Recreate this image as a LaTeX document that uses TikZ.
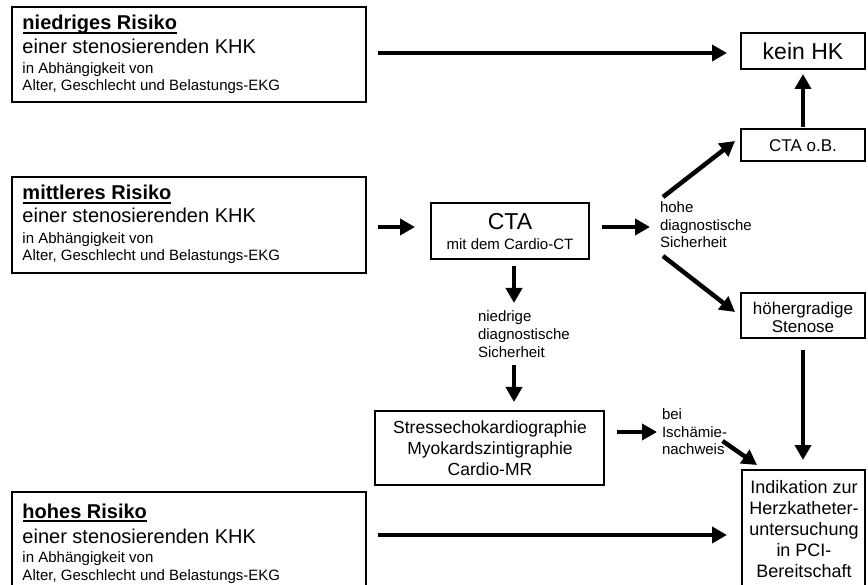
\documentclass[tikz,border=0pt]{standalone}
\usepackage{fontspec}
\setmainfont{Liberation Sans}
\usetikzlibrary{arrows.meta,calc}
\begin{document}
\begin{tikzpicture}[x=1pt,y=-1pt,
  box/.style={draw=black, line width=1.2pt, inner sep=0pt, outer sep=0pt, anchor=north west},
  lt/.style={inner sep=0pt, outer sep=0pt, anchor=base west},
  ct/.style={inner sep=0pt, outer sep=0pt, anchor=base},
  fT/.style={font=\fontsize{20}{24}\selectfont\bfseries},
  fB/.style={font=\fontsize{20}{24}\selectfont},
  fS/.style={font=\fontsize{15}{18}\selectfont},
  fL/.style={font=\fontsize{15}{18}\selectfont},
  fK/.style={font=\fontsize{23}{27}\selectfont},
  fM/.style={font=\fontsize{17}{20}\selectfont},
  fR/.style={font=\fontsize{17.5}{21}\selectfont},
  fI/.style={font=\fontsize{18}{21}\selectfont},
  uline/.style={line width=1.6pt},
  arr/.style={line width=4.5pt, -{Triangle[length=15pt,width=16pt]}}
]
\useasboundingbox (0,0) rectangle (868,585);
\clip (0,0) rectangle (868,585);

% ---------- left risk boxes ----------
\node[box, minimum width=354, minimum height=95] (b1) at (12,7) {};
\node[lt, fT] (b1t) at (22.5,30) {niedriges Risiko};
\draw[uline] ([yshift=-3pt]b1t.base west) -- ([yshift=-3pt]b1t.base east);
\node[lt, fB] (b1a) at (22.5,54) {einer stenosierenden KHK};
\node[lt, fS] (b1b) at (22.5,74) {in Abhängigkeit von};
\node[lt, fS] (b1c) at (22.5,91) {Alter, Geschlecht und Belastungs-EKG};

\node[box, minimum width=354, minimum height=96] (b2) at (12,177) {};
\node[lt, fT] (b2t) at (22.5,200) {mittleres Risiko};
\draw[uline] ([yshift=-3pt]b2t.base west) -- ([yshift=-3pt]b2t.base east);
\node[lt, fB] (b2a) at (22.5,223) {einer stenosierenden KHK};
\node[lt, fS] (b2b) at (22.5,244) {in Abhängigkeit von};
\node[lt, fS] (b2c) at (22.5,261) {Alter, Geschlecht und Belastungs-EKG};

\node[box, minimum width=354, minimum height=128] (b3) at (12,492) {};
\node[lt, fT] (b3t) at (22.5,518) {hohes Risiko};
\draw[uline] ([yshift=-3pt]b3t.base west) -- ([yshift=-3pt]b3t.base east);
\node[lt, fB] (b3a) at (22.5,543) {einer stenosierenden KHK};
\node[lt, fS] (b3b) at (22.5,562) {in Abhängigkeit von};
\node[lt, fS] (b3c) at (22.5,580) {Alter, Geschlecht und Belastungs-EKG};

% ---------- middle column ----------
\node[box, minimum width=158, minimum height=56] (cta) at (431,203) {};
\node[ct, fK] (ctat) at (510,230) {CTA};
\node[ct, fS] (ctab) at (510,250) {mit dem Cardio-CT};

\node[lt, fL] (nd1) at (478,322) {niedrige};
\node[lt, fL] (nd2) at (478,340) {diagnostische};
\node[lt, fL] (nd3) at (478,358) {Sicherheit};

\node[box, minimum width=229, minimum height=74] (stress) at (375,411) {};
\node[ct, fR] (st1) at (490,433) {Stressechokardiographie};
\node[ct, fR] (st2) at (490,454) {Myokardszintigraphie};
\node[ct, fR] (st3) at (490,475) {Cardio-MR};

\node[lt, fL] (hd1) at (660,213) {hohe};
\node[lt, fL] (hd2) at (660,231) {diagnostische};
\node[lt, fL] (hd3) at (660,248) {Sicherheit};

\node[lt, fL] (bi1) at (662,419) {bei};
\node[lt, fL] (bi2) at (662,437) {Ischämie-};
\node[lt, fL] (bi3) at (662,454) {nachweis};

% ---------- right column ----------
\node[box, minimum width=124, minimum height=36] (kein) at (741,33) {};
\node[ct, fK] (keint) at (803,60) {kein HK};

\node[box, minimum width=124, minimum height=32] (cob) at (741,129) {};
\node[ct, fM] (cobt) at (803,151.5) {CTA o.B.};

\node[box, minimum width=124, minimum height=45] (sten) at (741,293) {};
\node[ct, fM] (sten1) at (803,315) {höhergradige};
\node[ct, fM] (sten2) at (803,333) {Stenose};

\node[box, minimum width=123, minimum height=150] (ind) at (742,470) {};
\node[ct, fI] (ind1) at (804,493) {Indikation zur};
\node[ct, fI] (ind2) at (804,514) {Herzkatheter-};
\node[ct, fI] (ind3) at (804,535) {untersuchung};
\node[ct, fI] (ind4) at (804,556) {in PCI-};
\node[ct, fI] (ind5) at (804,577) {Bereitschaft};

% ---------- connectors ----------
\draw[arr] ($(b1.east)+(12,-1.5)$) coordinate (a1s) -- ($(a1s -| kein.west)+(-14,0)$);
\draw[arr] ($(cob.north)+(0,-2)$) -- ($(kein.south)+(0,5)$);
\draw[arr] ($(b2.east)+(12,2)$) coordinate (a3s) -- ($(a3s -| cta.west)+(-16,0)$);
\draw[arr] ($(cta.east)+(13,-4)$) coordinate (a4s) -- ($(a4s -| hd2.west)+(-10,0)$);
\draw[arr] ($(hd1.base west)+(3,-16)$) -- ($(cob.west)+(-6,-4)$);
\draw[arr] ($(hd3.base west)+(3,8)$) -- ($(sten.west)+(-6,-3.5)$);
\draw[arr] ($(cta.south)+(4,7)$) coordinate (a7s) -- ($(a7s |- nd1.base)+(0,-19)$);
\draw[arr] ($(a7s |- nd3.base)+(0,7)$) -- ($(a7s |- stress.north)+(0,-9)$);
\draw[arr] ($(stress.east)+(13,-16)$) coordinate (a9s) -- ($(a9s -| bi2.west)+(-5,0)$);
\draw[arr] ($(bi3.base east)+(-2,-13)$) -- ($(ind.north west)+(15,-5)$);
\draw[arr] ($(sten.south)+(0,12)$) coordinate (a11s) -- ($(a11s |- ind.north)+(0,-10)$);
\draw[arr] ($(b3.east)+(12,-21)$) coordinate (a12s) -- ($(a12s -| ind.west)+(-15,0)$);
\end{tikzpicture}
\end{document}
